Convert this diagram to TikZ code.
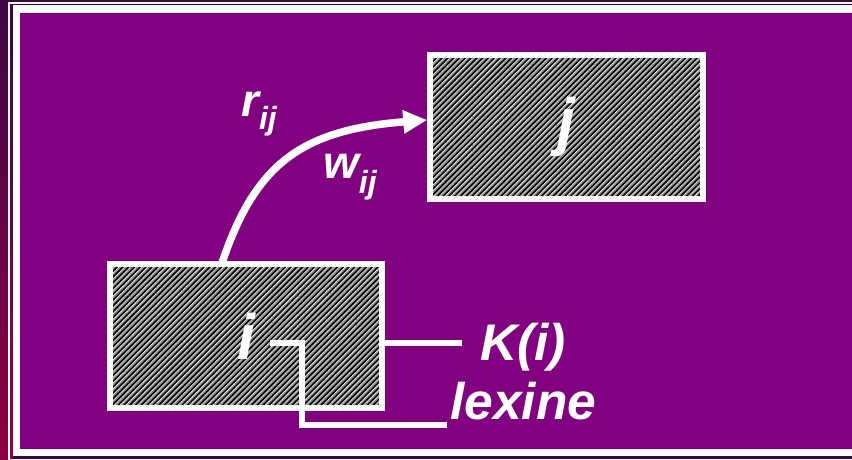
\documentclass[tikz,border=0pt]{standalone}
\usepackage{fontspec}
\setmainfont{Liberation Sans}
\usetikzlibrary{arrows.meta,patterns.meta,positioning}
\definecolor{slidepurple}{HTML}{800080}
\definecolor{slidedark}{HTML}{3C0842}
\definecolor{slidered}{HTML}{8E0042}
\definecolor{hatchgray}{HTML}{8A8A8A}

\begin{document}
\begin{tikzpicture}[x=1pt,y=-1pt,
		>={Triangle[length=24pt,width=22pt]},
		wire/.style={draw=white,line width=6pt},
		arc/.style={->,draw=white,line width=7.5pt},
		boxnode/.style={rectangle,draw=white,line width=5.5pt,inner sep=0pt,
			preaction={fill=hatchgray},
			pattern={Lines[angle=45,distance=4.1pt,line width=2.1pt]},pattern color=black,
			postaction={pattern={Lines[angle=45,distance=4.1pt,line width=0.8pt,xshift=1.45pt]},pattern color=white!85!gray},
			text=white,font=\fontsize{64}{64}\selectfont\bfseries\itshape},
		labelnode/.style={inner sep=0pt,text=white,font=\fontsize{51.5}{52}\selectfont\bfseries\itshape},
		weightnode/.style={inner sep=0pt,text=white,font=\fontsize{46}{46}\selectfont\bfseries\itshape}]
		\clip (0,0) rectangle (852,460);
		% slide frame
		\fill[slidedark] (0,0) rectangle (852,460);
		\shade[top color=slidedark,bottom color=slidered] (0,0) rectangle (12.5,460);
		\draw[white,line width=2pt] (9,3) rectangle (870,459.5);
		\fill[white] (12.5,5) rectangle (870,456);
		\fill[slidepurple] (19.5,13.5) rectangle (870,449);

		\node[boxnode,minimum width=272pt,minimum height=144pt] (boxi) at (246,336) {i};
		\node[boxnode,minimum width=273pt,minimum height=144pt] (boxj) at (566.5,127) {j};

		\node[labelnode,anchor=base west] (ki) at (480,360) {K(i)};
		\node[labelnode,anchor=base west] (lex) at (450,419) {lexine};
		\node[weightnode,anchor=base west] (rij) at (241,117) {r\raisebox{-13pt}{\fontsize{32}{32}\selectfont ij}};
		\node[weightnode,anchor=base west] (wij) at (323,178) {w\raisebox{-15pt}{\fontsize{32}{32}\selectfont ij}};

		\coordinate (kstub) at (462,343);
		\coordinate (ifoot) at (270,343);
		\coordinate (ibend) at (302,425);
		\coordinate (lstub) at (447,425);

		\draw[arc] ([xshift=-24pt]boxi.north) .. controls (255,165) and (300,130) .. ([yshift=7pt]boxj.west);
		\draw[wire] (boxi.east |- kstub) -- (kstub);
		\draw[wire] (ifoot) -| (ibend) -- (lstub);
	\end{tikzpicture}
\end{document}
